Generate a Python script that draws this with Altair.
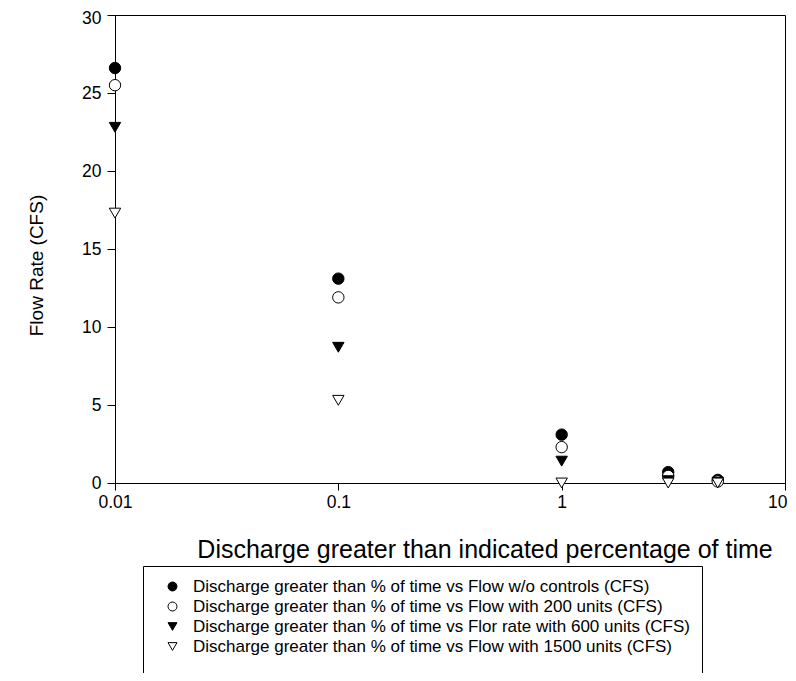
import altair as alt
import pandas as pd

pct = [0.01, 0.1, 1, 3, 5]
series_names = [
    "Discharge greater than % of time vs Flow w/o controls (CFS)",
    "Discharge greater than % of time vs Flow with 200 units (CFS)",
    "Discharge greater than % of time vs Flor rate with 600 units (CFS)",
    "Discharge greater than % of time vs Flow with 1500 units (CFS)",
]
flow_no_controls = [26.6, 13.1, 3.1, 0.7, 0.2]
flow_200 = [25.5, 11.9, 2.3, 0.45, 0.1]
flow_600 = [22.8, 8.7, 1.4, 0.15, 0.05]
flow_1500 = [17.3, 5.3, 0.0, 0.0, 0.0]

shapes = ["circle", "circle", "triangle-down", "triangle-down"]
fills = ["black", "white", "black", "white"]
strokes = ["black", "black", "black", "black"]

rows = []
for name, vals in zip(series_names, [flow_no_controls, flow_200, flow_600, flow_1500]):
    for p, v in zip(pct, vals):
        rows.append({"pct": p, "flow": v, "series": name})
df = pd.DataFrame(rows)

FONT = "Liberation Sans"

legend = alt.Legend(orient="none", legendX=28, legendY=551,
                    title=" ", titleOrient="bottom", titlePadding=40,
                    strokeColor="black", padding=12,
                    labelFontSize=17, symbolSize=80, symbolStrokeWidth=1,
                    rowPadding=2, labelOffset=12, symbolOffset=9, labelLimit=800)

chart = alt.Chart(df).mark_point(size=130, filled=True, strokeWidth=1, opacity=1).encode(
    x=alt.X("pct:Q",
            scale=alt.Scale(type="log", domain=[0.01, 10], nice=False),
            axis=alt.Axis(values=[0.01, 0.1, 1, 10], format="~g", grid=False, labelFlush=False,
                          labelAlign={"condition": {"test": "datum.value >= 10", "value": "right"}, "value": "center"},
                          labelOffset={"condition": {"test": "datum.value >= 10", "value": 2}, "value": 0},
                          title="Discharge greater than indicated percentage of time",
                          titleX=369.5, titleY=66, titleBaseline="middle", titleAlign="center",
                          labelFontSize=17.5, titleFontSize=25, titleFontWeight="normal",
                          tickSize=7, labelPadding=3)),
    y=alt.Y("flow:Q",
            scale=alt.Scale(domain=[0, 30], nice=False, zero=True),
            axis=alt.Axis(values=[0, 5, 10, 15, 20, 25, 30], grid=False,
                          labelOffset={"condition": {"test": "datum.value >= 30", "value": 3}, "value": 0},
                          title="Flow Rate (CFS)",
                          titleX=-79, titleY=250, titleBaseline="middle", titleAlign="center", titleAngle=-90,
                          labelFontSize=17.5, titleFontSize=19, titleFontWeight="normal",
                          tickSize=8, labelPadding=6)),
    shape=alt.Shape("series:N", scale=alt.Scale(domain=series_names, range=shapes), legend=legend),
    fill=alt.Fill("series:N", scale=alt.Scale(domain=series_names, range=fills), legend=legend),
    stroke=alt.Stroke("series:N", scale=alt.Scale(domain=series_names, range=strokes), legend=legend),
).properties(
    width=670, height=468,
    autosize=alt.AutoSizeParams(type="none"),
    padding={"left": 107, "top": 7, "right": 3, "bottom": 190},
).configure(
    font=FONT,
).configure_axis(
    domainColor="black", tickColor="black", labelColor="black", titleColor="black",
    labelFont=FONT, titleFont=FONT,
).configure_legend(
    labelFont=FONT, labelColor="black",
).configure_view(
    stroke="black", strokeWidth=1,
)

chart.save("out.html", embed_options={"renderer": "svg", "actions": False})
